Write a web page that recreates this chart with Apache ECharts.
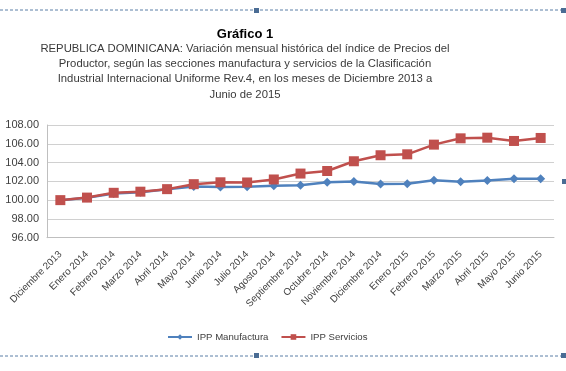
<!DOCTYPE html>
<html><head><meta charset="utf-8">
<script src="https://cdn.jsdelivr.net/npm/echarts@6/dist/echarts.min.js"></script>
<style>html,body{margin:0;padding:0;background:#fff}#c{width:566px;height:371px}</style>
</head><body><div id="c"></div>
<script>
var categories = ["Diciembre 2013","Enero 2014","Febrero 2014","Marzo 2014","Abril 2014","Mayo 2014","Junio 2014","Julio 2014","Agosto 2014","Septiembre 2014","Octubre 2014","Noviembre 2014","Diciembre 2014","Enero 2015","Febrero 2015","Marzo 2015","Abril 2015","Mayo 2015","Junio 2015"];
var manufactura = [100.00,100.25,100.70,100.85,101.15,101.45,101.40,101.42,101.52,101.58,101.91,101.98,101.73,101.75,102.12,101.95,102.08,102.27,102.27];
var servicios = [100.00,100.27,100.78,100.90,101.17,101.70,101.90,101.88,102.20,102.83,103.10,104.14,104.78,104.88,105.91,106.58,106.65,106.30,106.62];
var yTicks = [96,98,100,102,104,106,108];
var seriesNames = ["IPP Manufactura","IPP Servicios"];
var titleText = "Gráfico 1";
var subtitleText = "REPUBLICA DOMINICANA: Variación mensual histórica del índice de Precios del\nProductor, según las secciones manufactura y servicios de la Clasificación\nIndustrial Internacional Uniforme Rev.4, en los meses de Diciembre 2013 a\nJunio de 2015";

var chart = echarts.init(document.getElementById('c'), null, {renderer:'canvas'});
var font = 'Liberation Sans';
chart.setOption({
  animation:false,
  textStyle:{fontFamily:font},
  graphic:[
    {type:'line', shape:{x1:0,y1:10,x2:566,y2:10}, style:{stroke:'#5B7FA6',lineWidth:1,lineDash:[3,2]}},
    {type:'line', shape:{x1:0,y1:356,x2:566,y2:356}, style:{stroke:'#5B7FA6',lineWidth:1,lineDash:[3,2]}},
    {type:'rect', shape:{x:254,y:8,width:5,height:5}, style:{fill:'#4A6C94'}},
    {type:'rect', shape:{x:254,y:353,width:5,height:5}, style:{fill:'#4A6C94'}},
    {type:'rect', shape:{x:561,y:8,width:5,height:5}, style:{fill:'#4A6C94'}},
    {type:'rect', shape:{x:561,y:353,width:5,height:5}, style:{fill:'#4A6C94'}},
    {type:'rect', shape:{x:562,y:179,width:4,height:5}, style:{fill:'#4A6C94'}}
  ],
  title:[
    {text:titleText, left:240, top:23, textAlign:'center',
     textStyle:{fontFamily:font,fontSize:13,fontWeight:'bold',color:'#000'}},
    {text:subtitleText, left:240, top:36, textAlign:'center',
     textStyle:{fontFamily:font,fontSize:11.3,fontWeight:'normal',color:'#3a3a3a',lineHeight:15.3}}
  ],
  legend:{
    bottom:24, left:162, itemGap:12, itemWidth:24, itemHeight:7,
    data:seriesNames,
    textStyle:{fontFamily:font,fontSize:9.6,color:'#404040'}
  },
  grid:{left:47, right:12, top:125, height:112.7},
  xAxis:{
    type:'category', data:categories, boundaryGap:true,
    axisLine:{lineStyle:{color:'#BFBFBF'}},
    axisTick:{show:false},
    axisLabel:{rotate:45, interval:0, fontSize:9.8, color:'#404040', fontFamily:font, margin:15}
  },
  yAxis:{
    type:'value', min:yTicks[0], max:yTicks[yTicks.length-1], interval:2,
    axisLine:{show:true,lineStyle:{color:'#BFBFBF'}},
    axisTick:{show:false},
    splitLine:{lineStyle:{color:'#D0D0D0'}},
    axisLabel:{formatter:function(v){return v.toFixed(2);}, fontSize:11, color:'#404040', fontFamily:font, margin:8}
  },
  series:[
    {name:seriesNames[0], type:'line', data:manufactura, symbol:'diamond', symbolSize:9,
     itemStyle:{color:'#4F81BD'}, lineStyle:{color:'#4F81BD',width:2.5}},
    {name:seriesNames[1], type:'line', data:servicios, symbol:'rect', symbolSize:10,
     itemStyle:{color:'#C0504D'}, lineStyle:{color:'#C0504D',width:2.5}}
  ]
});
</script></body></html>
